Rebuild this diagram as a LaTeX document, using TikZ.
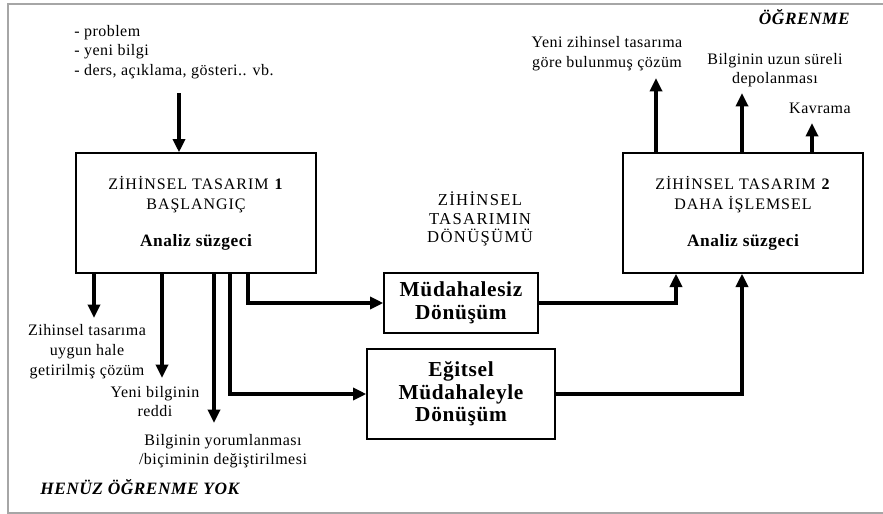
\documentclass[tikz,border=0pt]{standalone}
\usepackage{fontspec}
\setmainfont[LetterSpace=3]{Liberation Serif}
\newfontfamily\capsfont[LetterSpace=6]{Liberation Serif}
\newfontfamily\wcapsfont[LetterSpace=8]{Liberation Serif}
\usetikzlibrary{arrows.meta}
\begin{document}
\begin{tikzpicture}[x=0.75pt,y=-0.75pt,
  box/.style={draw, line width=1pt, inner sep=0pt, align=center},
  bigbox/.style={box, minimum width=180pt, minimum height=90pt,
    font=\capsfont\fontsize{12}{15}\selectfont},
  trbox/.style={box, font=\bfseries\fontsize{16}{17}\selectfont},
  arr/.style={line width=3pt, -{Triangle[length=10pt,width=9pt]}},
  lbl/.style={font=\fontsize{12}{14.6}\selectfont, align=center, inner sep=0pt},
  caps/.style={font=\wcapsfont\fontsize{12.5}{14}\selectfont, align=center, inner sep=0pt},
  head/.style={font=\bfseries\itshape\fontsize{13}{14}\selectfont, inner sep=0pt}]
\useasboundingbox (0,0) rectangle (883,514);
\draw[gray!70, line width=1pt] (890,4) -- (8,4) -- (8,513) -- (890,513);

% boxes
\node[bigbox] (b1) at (196,213) {ZİHİNSEL TASARIM \textbf{1}\\BAŞLANGIÇ\\[12.5pt]{\rmfamily\bfseries\fontsize{13}{15}\selectfont Analiz süzgeci}};
\node[bigbox] (b2) at (743,213) {ZİHİNSEL TASARIM \textbf{2}\\DAHA İŞLEMSEL\\[12.5pt]{\rmfamily\bfseries\fontsize{13}{15}\selectfont Analiz süzgeci}};
\node[trbox, minimum width=115.5pt, minimum height=45pt] (m) at (461,303) {Müdahalesiz\\Dönüşüm};
\node[trbox, minimum width=141pt, minimum height=67.5pt] (e) at (461,394) {Eğitsel\\Müdahaleyle\\Dönüşüm};

% labels
\node[lbl, align=left, anchor=west] (inp) at (74,52) {- problem\\- yeni bilgi\\- ders, açıklama, gösteri.. vb.};
\node[head, anchor=east] (ogr) at (850,17) {ÖĞRENME};
\node[lbl] (l1) at (607,53.5) {Yeni zihinsel tasarıma\\göre bulunmuş çözüm};
\node[lbl] (l2) at (775,70) {Bilginin uzun süreli\\depolanması};
\node[lbl] (l3) at (820,108) {Kavrama};
\node[caps] (tr) at (480,219) {ZİHİNSEL\\TASARIMIN\\DÖNÜŞÜMÜ};
\node[lbl, font=\fontsize{12}{15}\selectfont] (r1) at (87,352) {Zihinsel tasarıma\\uygun hale\\getirilmiş çözüm};
\node[lbl] (r2) at (155,401.5) {Yeni bilginin\\reddi};
\node[lbl] (r3) at (223,451) {Bilginin yorumlanması\\/biçiminin değiştirilmesi};
\node[head, anchor=west] (hen) at (40,487) {HENÜZ ÖĞRENME YOK};

% input arrow
\coordinate (in) at (179,93);
\draw[arr] (in) -- (in |- b1.north);

% outputs of box 2
\coordinate (o1) at (656,78);
\coordinate (o2) at (742,93);
\coordinate (o3) at (812,123);
\draw[arr] (o1 |- b2.north) -- (o1);
\draw[arr] (o2 |- b2.north) -- (o2);
\draw[arr] (o3 |- b2.north) -- (o3);

% outputs of box 1
\coordinate (d1) at (94,318);
\coordinate (d2) at (162,378);
\coordinate (d3) at (214,423);
\draw[arr] (d1 |- b1.south) -- (d1);
\draw[arr] (d2 |- b1.south) -- (d2);
\draw[arr] (d3 |- b1.south) -- (d3);

% transformations
\coordinate (k1) at (248,303);
\coordinate (k2) at (230,394);
\draw[arr] (k1 |- b1.south) -- (k1) -- (m.west);
\draw[arr] (k2 |- b1.south) -- (k2) -- (e.west);
\coordinate (u1) at (676,303);
\coordinate (u2) at (742,394);
\draw[arr] (m.east) -- (u1) -- (u1 |- b2.south);
\draw[arr] (e.east) -- (u2) -- (u2 |- b2.south);
\end{tikzpicture}
\end{document}
